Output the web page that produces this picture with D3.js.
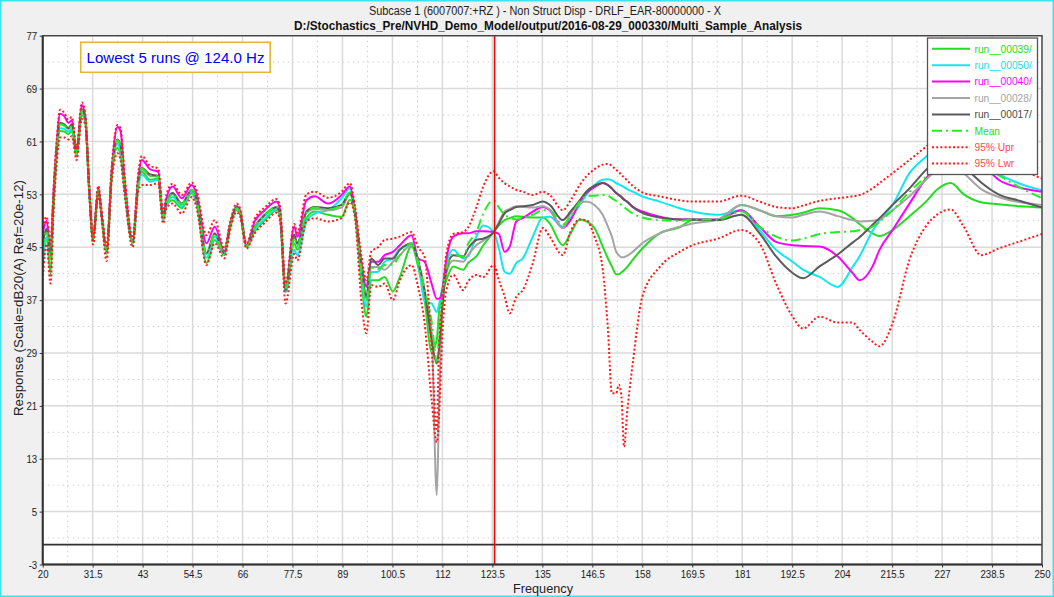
<!DOCTYPE html>
<html><head><meta charset="utf-8">
<script src="https://cdn.jsdelivr.net/npm/d3@7"></script>
<style>
html,body{margin:0;padding:0;background:#f0f0f0;}
svg{display:block;}
</style></head><body>
<svg id="chart" width="1054" height="597"></svg>
<script>
// ---------------- DATA ----------------
const freq = [20,20.9,21.8,22.5,23.2,24,25,25.9,26.7,27.8,
 29,29.8,30.7,31.6,32.8,33.6,34.7,35.9,37.2,37.9,
 38.9,40.7,42,42.8,44.7,46.6,47.7,48.5,49.9,52,
 54.3,55.4,57.7,59.6,61.8,63.1,64.6,65.4,66.9,68.8,
 71.1,73.8,74.6,75.9,77.9,78.6,80.7,82.6,85.7,88.8,
 90.7,91.8,93.4,94.5,95.6,97.2,98.7,100.6,102.2,104.9,
 106.4,107.9,109.5,110.7,111.2,112,112.9,114.5,116.8,117.9,
 119.8,121.4,123.8,125,126.3,127.5,129,130.5,132.8,135.1,
 136.7,139.7,141.5,143.6,145.1,147,148.9,150.1,151,152,
 152.6,153.2,153.8,154.5,155.8,158,162,166.6,169.6,175.4,
 180.8,185,188.8,192.6,195,198.8,203,206.4,208,211,
 212.6,215.6,219.5,223.3,226,229,232,236,240,245,
 250];

const run00039 = [44.0,46.5,41.0,51.0,58.5,62.6,62.5,62.1,62.6,58.8,
 65.0,64.0,53.5,46.0,53.3,49.4,44.0,55.8,60.0,59.0,
 53.2,45.5,54.5,56.4,55.2,55.4,49.3,51.5,52.1,50.9,
 53.2,51.6,42.6,46.1,43.8,47.8,50.6,50.1,45.0,47.4,
 49.1,50.6,49.6,38.3,45.6,44.6,49.4,50.4,49.9,49.6,
 52.2,50.2,39.5,34.5,40.0,40.0,40.5,38.3,40.5,45.1,
 42.1,37.0,29.2,31.0,35.0,38.0,40.0,42.1,41.6,42.6,
 43.6,45.3,47.3,48.3,49.1,49.4,49.7,49.6,49.5,49.5,
 48.6,45.3,47.1,49.2,48.9,47.9,45.1,43.3,42.1,40.9,
 40.9,41.2,41.5,42.0,43.1,44.8,47.1,48.0,49.1,49.2,
 51.4,50.6,49.7,49.9,50.2,50.9,50.6,49.4,48.5,47.1,
 46.7,47.6,49.7,51.9,53.8,54.7,53.0,51.8,51.5,51.2,
 51.0];

const run00050 = [42.0,46.5,43.5,52.0,59.0,63.0,62.9,62.5,62.9,59.0,
 65.4,64.2,53.7,46.1,53.5,49.5,44.2,56.0,60.6,59.6,
 53.5,45.6,54.0,56.0,54.9,55.2,49.0,51.2,52.6,51.2,
 53.5,51.8,43.4,46.6,43.9,48.0,50.8,50.2,45.1,47.6,
 49.3,50.8,49.8,38.2,44.6,43.8,48.9,50.1,50.6,52.4,
 53.9,50.8,41.0,36.0,41.2,41.3,42.8,43.3,44.8,45.3,
 43.0,36.8,36.5,35.2,36.3,39.0,42.5,44.6,43.3,43.6,
 46.6,48.3,47.3,44.8,41.3,41.0,42.6,43.3,46.6,49.5,
 49.6,48.1,49.4,51.4,52.9,54.4,55.2,55.3,55.1,54.7,
 54.5,54.3,54.1,53.8,53.4,52.7,51.9,50.9,50.4,49.9,
 50.6,47.6,44.6,42.8,41.6,40.5,39.0,42.0,43.6,47.5,
 49.0,51.4,56.2,58.7,60.3,61.2,60.2,58.0,56.1,54.6,
 53.6];

const run00040 = [47.0,49.0,44.5,53.5,60.5,65.2,64.8,63.8,64.2,59.5,
 66.5,64.8,54.2,46.4,54.0,49.9,44.6,56.8,63.2,62.6,
 55.0,46.0,55.5,58.2,56.8,56.4,49.8,52.5,54.2,52.4,
 54.4,53.1,45.6,48.1,44.4,48.4,51.2,50.6,45.3,48.9,
 50.6,51.9,50.8,39.0,48.1,46.6,52.1,52.7,51.6,52.9,
 54.2,51.0,42.6,39.0,42.8,42.8,43.8,44.3,45.3,46.8,
 43.3,42.8,39.5,37.2,37.2,38.5,43.1,46.6,47.1,47.1,
 47.4,47.4,47.3,47.0,44.3,45.1,48.9,49.4,50.4,51.1,
 50.6,47.9,49.1,51.9,53.2,54.1,54.7,54.4,53.9,53.2,
 52.9,52.6,52.2,51.9,51.1,50.4,49.6,49.2,49.2,49.2,
 50.6,48.1,45.8,45.3,45.2,45.1,43.6,41.1,40.0,42.1,
 44.6,47.6,51.6,55.4,57.5,59.2,59.5,57.8,55.2,54.0,
 53.4];

const run00028 = [45.5,47.8,43.5,52.5,59.5,63.6,63.4,62.9,63.4,59.1,
 65.7,64.4,53.8,46.2,53.6,49.6,44.3,56.2,61.0,60.2,
 53.8,45.7,54.8,56.8,55.8,55.7,49.4,51.7,53.0,51.5,
 53.6,52.2,44.0,47.0,44.0,48.1,51.0,50.4,45.1,48.0,
 49.8,51.0,50.0,38.6,46.6,45.4,50.2,50.8,50.6,51.0,
 53.0,50.6,41.8,37.2,42.0,42.0,41.6,42.8,43.8,45.3,
 42.8,38.0,32.5,7.5,20.0,36.5,41.0,43.0,42.8,43.8,
 45.3,46.0,47.3,48.8,50.4,50.8,51.2,51.1,51.0,51.2,
 50.7,47.9,50.1,51.6,51.9,51.4,49.9,48.1,46.6,44.3,
 43.8,43.5,43.5,43.7,44.3,45.6,47.1,48.1,48.6,49.2,
 51.4,50.6,49.7,49.5,49.9,50.4,49.7,49.1,48.9,49.0,
 49.2,50.6,52.7,55.2,56.8,57.8,56.2,53.8,52.6,51.8,
 51.4];

const run00017 = [45.5,47.8,43.5,52.5,59.6,63.8,63.6,63.0,63.6,59.2,
 65.9,64.5,53.9,46.2,53.7,49.7,44.4,56.3,61.3,60.5,
 54.0,45.8,55.0,57.0,56.0,55.8,49.5,51.8,53.2,51.6,
 53.7,52.3,44.1,47.1,44.1,48.1,51.1,50.4,45.2,48.1,
 49.9,51.1,50.1,38.5,46.9,45.6,50.4,51.1,50.9,51.4,
 53.2,50.7,42.0,37.5,43.3,42.3,43.3,43.3,44.6,45.6,
 43.0,38.5,31.0,27.4,29.5,36.0,41.5,43.8,43.6,44.8,
 46.1,46.3,47.3,48.6,50.1,50.6,51.1,51.2,51.4,51.9,
 51.4,49.1,50.4,52.1,53.4,54.3,54.7,54.4,53.9,53.2,
 52.9,52.6,52.2,51.9,51.1,50.2,49.5,49.2,49.2,49.1,
 49.9,47.1,43.6,41.1,40.3,42.1,43.9,45.7,46.5,48.4,
 49.4,51.4,53.9,56.7,58.3,59.3,57.3,54.8,53.0,52.0,
 51.0];

const meanVals = [44.8,47.5,43.2,52.3,59.4,63.6,63.4,62.9,63.3,59.1,
 65.7,64.4,53.8,46.2,53.6,49.6,44.3,56.2,61.2,60.4,
 53.9,45.7,54.8,56.9,55.8,55.7,49.4,51.7,53.0,51.5,
 53.7,52.2,44.0,47.0,44.0,48.1,50.9,50.3,45.1,48.0,
 49.8,51.1,50.1,38.5,46.4,45.2,50.2,51.0,50.7,51.4,
 53.3,50.6,41.4,36.8,41.9,41.7,42.3,42.4,43.8,45.6,
 42.8,38.6,33.8,27.7,31.6,37.6,41.7,44.0,43.5,45.5,
 47.3,50.1,52.1,51.0,49.9,49.5,49.2,49.4,49.9,50.6,
 50.6,48.4,49.7,51.9,52.7,52.8,52.9,52.8,52.4,52.0,
 51.7,51.4,51.1,50.7,50.1,49.5,49.1,49.0,49.2,49.2,
 50.4,48.1,46.6,46.0,46.3,47.0,47.3,47.4,47.6,48.1,
 48.9,50.6,53.4,55.7,57.5,58.8,58.8,57.5,55.9,54.0,
 52.4];

const upr95 = [48.0,49.6,45.5,54.0,61.0,65.8,65.3,64.3,64.7,60.0,
 66.9,65.2,54.6,46.8,54.3,50.3,45.2,57.4,63.5,63.0,
 55.5,46.4,56.2,58.8,57.3,56.9,50.3,53.0,54.6,52.9,
 54.8,53.6,46.8,49.1,44.8,48.7,51.6,50.9,45.6,49.3,
 51.0,52.3,51.2,39.5,48.5,47.2,53.0,53.4,52.5,53.4,
 54.7,51.5,43.5,40.0,44.3,45.0,46.1,46.3,46.6,47.3,
 45.0,43.5,30.0,17.5,29.5,37.0,44.0,47.0,47.3,48.0,
 51.0,54.2,56.5,55.5,54.7,54.2,53.7,53.4,52.9,53.4,
 52.9,50.6,52.1,54.4,55.7,56.8,57.5,57.6,57.3,56.7,
 56.4,55.9,55.6,55.1,54.3,53.3,52.7,52.1,51.9,51.9,
 52.8,51.9,51.1,50.9,51.3,52.0,52.4,52.7,52.9,53.9,
 54.7,56.2,58.2,60.2,61.6,62.8,62.8,61.0,58.8,56.8,
 55.4];

const lwr95 = [40.0,45.5,39.5,50.5,57.5,61.6,61.6,61.3,61.8,58.2,
 64.4,63.5,53.0,45.4,52.9,49.0,42.9,55.2,59.2,58.2,
 52.7,45.0,53.5,54.4,54.4,54.7,48.6,50.9,51.6,50.1,
 52.6,51.0,42.3,45.6,43.3,47.5,50.3,49.7,44.8,47.1,
 48.7,50.2,49.2,36.5,44.0,43.0,48.9,49.4,48.9,49.4,
 51.8,49.8,36.5,32.0,39.3,39.0,39.5,37.0,40.0,42.3,
 39.0,33.5,22.0,15.5,19.4,32.0,38.5,40.8,38.5,39.8,
 40.8,40.5,42.3,40.0,37.6,35.0,37.5,38.5,42.6,47.9,
 46.6,43.8,47.4,49.2,49.1,46.6,41.6,32.5,22.9,22.9,
 24.2,22.4,14.8,19.9,27.4,37.5,42.0,44.3,45.3,46.3,
 47.6,45.6,39.5,34.5,32.7,34.5,33.6,33.6,32.5,30.7,
 30.0,33.5,43.1,48.2,50.0,50.7,48.1,43.8,44.8,45.9,
 47.0];

const xTicks = [20,31.5,43,54.5,66,77.5,89,100.5,112,123.5,135,146.5,158,169.5,181,192.5,204,215.5,227,238.5,250];
const yTicks = [77,69,61,53,45,37,29,21,13,5,-3];
const markerFreq = 124.0;
const titleLine1 = "Subcase 1 (6007007:+RZ ) - Non Struct Disp -  DRLF_EAR-80000000 - X";
const titleLine2 = "D:/Stochastics_Pre/NVHD_Demo_Model/output/2016-08-29_000330/Multi_Sample_Analysis";
const yLabel = "Response (Scale=dB20(A) Ref=20e-12)";
const xLabel = "Frequency";
const noteText = "Lowest 5 runs @ 124.0 Hz";

const series = [
  {name:"run__00039/", values:run00039, color:"#22dd22", text:"#22dd22", width:2, dash:null},
  {name:"run__00050/", values:run00050, color:"#14e6f0", text:"#14dcec", width:2, dash:null},
  {name:"run__00040/", values:run00040, color:"#ff00ff", text:"#ff00ff", width:2, dash:null},
  {name:"run__00028/", values:run00028, color:"#a4a4a4", text:"#a4a4a4", width:2, dash:null},
  {name:"run__00017/", values:run00017, color:"#5a5a5a", text:"#4a4a4a", width:2, dash:null},
  {name:"Mean",        values:meanVals, color:"#22ee22", text:"#22dd22", width:2, dash:"10,4,2,4"},
  {name:"95% Upr",     values:upr95,    color:"#ff1a1a", text:"#ff4a4a", width:2, dash:"2,2.2"},
  {name:"95% Lwr",     values:lwr95,    color:"#ff1a1a", text:"#ff4a4a", width:2, dash:"2,2.2"}
];

// ---------------- CHART ----------------
const W = 1054, H = 597;
const m = {l:42.7, r:1042, t:35.7, b:564.5};
const x = d3.scaleLinear().domain([20,250]).range([m.l, m.r]);
const y = d3.scaleLinear().domain([-3,77]).range([m.b, m.t]);
const NARROW = "'Liberation Sans Narrow','Arial Narrow','Liberation Sans',Arial,sans-serif";
const SANS = "'Liberation Sans',Arial,sans-serif";

const svg = d3.select("#chart");
svg.append("rect").attr("x",0.75).attr("y",0.75).attr("width",W-1.5).attr("height",H-1.5)
  .attr("fill","#f0f0f0").attr("stroke","#3ae4f0").attr("stroke-width",1.5);

svg.append("rect").attr("x",m.l).attr("y",m.t).attr("width",m.r-m.l).attr("height",m.b-m.t).attr("fill","#ffffff");

// grid
const grid = svg.append("g");
const xMinor = xTicks.slice(0,-1).map((d,i)=>(d+xTicks[i+1])/2);
const yMinor = yTicks.slice(0,-1).map((d,i)=>(d+yTicks[i+1])/2);
grid.selectAll(".xm").data(xMinor).join("line")
  .attr("x1",d=>x(d)).attr("x2",d=>x(d)).attr("y1",m.t).attr("y2",m.b)
  .attr("stroke","#cfcfcf").attr("stroke-width",1).attr("stroke-dasharray","1.5,3.5");
grid.selectAll(".ym").data(yMinor).join("line")
  .attr("x1",m.l).attr("x2",m.r).attr("y1",d=>y(d)).attr("y2",d=>y(d))
  .attr("stroke","#cfcfcf").attr("stroke-width",1).attr("stroke-dasharray","1.5,3.5");
grid.selectAll(".xM").data(xTicks).join("line")
  .attr("x1",d=>x(d)).attr("x2",d=>x(d)).attr("y1",m.t).attr("y2",m.b)
  .attr("stroke","#dadada").attr("stroke-width",1.5);
grid.selectAll(".yM").data(yTicks).join("line")
  .attr("x1",m.l).attr("x2",m.r).attr("y1",d=>y(d)).attr("y2",d=>y(d))
  .attr("stroke","#dadada").attr("stroke-width",1.5);

// zero line
svg.append("line").attr("x1",m.l).attr("x2",m.r).attr("y1",y(0)).attr("y2",y(0))
  .attr("stroke","#333").attr("stroke-width",1.6);

// clip
svg.append("defs").append("clipPath").attr("id","clip").append("rect")
  .attr("x",m.l).attr("y",m.t).attr("width",m.r-m.l).attr("height",m.b-m.t);

const line = d3.line().x((d,i)=>x(freq[i])).y(d=>y(d)).curve(d3.curveMonotoneX);
const plot = svg.append("g").attr("clip-path","url(#clip)");
series.forEach(s=>{
  plot.append("path").datum(s.values).attr("d",line)
    .attr("fill","none").attr("stroke",s.color).attr("stroke-width",s.width)
    .attr("stroke-dasharray",s.dash).attr("stroke-linejoin","round");
});

// marker line
plot.append("line").attr("x1",x(markerFreq)).attr("x2",x(markerFreq)).attr("y1",m.t).attr("y2",m.b)
  .attr("stroke","#ff0000").attr("stroke-width",1.6);

// axes
const gx = svg.append("g").attr("transform",`translate(0,${m.b})`)
  .call(d3.axisBottom(x).tickValues(xTicks).tickSize(3).tickSizeOuter(0).tickPadding(2).tickFormat(d=>d));
const gy = svg.append("g").attr("transform",`translate(${m.l},0)`)
  .call(d3.axisLeft(y).tickValues(yTicks).tickSize(3).tickSizeOuter(0).tickPadding(2).tickFormat(d=>d));
[gx,gy].forEach(g=>{
  g.select(".domain").remove();
  g.selectAll(".tick line").attr("stroke","#333");
  g.selectAll("text").attr("font-family",SANS).attr("font-size",11.5).attr("fill","#222");
});
gx.selectAll("text").attr("transform","scale(0.84,1)");
gy.selectAll("text").attr("transform","scale(0.84,1)").attr("x",-6.5);

// frame
svg.append("rect").attr("x",m.l).attr("y",m.t).attr("width",m.r-m.l).attr("height",m.b-m.t)
  .attr("fill","none").attr("stroke","#444").attr("stroke-width",1.4);
svg.append("line").attr("x1",m.l).attr("x2",m.l).attr("y1",m.t).attr("y2",m.b).attr("stroke","#333").attr("stroke-width",2);
svg.append("line").attr("x1",m.l).attr("x2",m.r).attr("y1",m.b).attr("y2",m.b).attr("stroke","#333").attr("stroke-width",2);

// titles
svg.append("text").attr("x",545).attr("y",15).attr("text-anchor","middle")
  .attr("font-family",NARROW).attr("font-size",12).attr("fill","#222")
  .attr("textLength",352).attr("lengthAdjust","spacingAndGlyphs").text(titleLine1);
svg.append("text").attr("x",548).attr("y",30).attr("text-anchor","middle")
  .attr("font-family",NARROW).attr("font-size",13).attr("font-weight","bold").attr("fill","#111")
  .attr("textLength",508).attr("lengthAdjust","spacingAndGlyphs").text(titleLine2);

// axis labels
svg.append("text").attr("transform","translate(23,298) rotate(-90)").attr("text-anchor","middle")
  .attr("font-family",SANS).attr("font-size",13).attr("fill","#222")
  .attr("textLength",236).attr("lengthAdjust","spacingAndGlyphs").text(yLabel);
svg.append("text").attr("x",543).attr("y",593).attr("text-anchor","middle")
  .attr("font-family",SANS).attr("font-size",13).attr("fill","#222")
  .attr("textLength",60).attr("lengthAdjust","spacingAndGlyphs").text(xLabel);

// annotation
svg.append("rect").attr("x",80.7).attr("y",42.3).attr("width",189.5).attr("height",30)
  .attr("fill","#ffffff").attr("stroke","#e2b830").attr("stroke-width",1.6);
svg.append("text").attr("x",175.5).attr("y",62.5).attr("text-anchor","middle")
  .attr("font-family",SANS).attr("font-size",14.5).attr("fill","#0000ff")
  .attr("textLength",178).attr("lengthAdjust","spacingAndGlyphs").text(noteText);

// legend
const lg = svg.append("g");
lg.append("rect").attr("x",927.5).attr("y",38).attr("width",110).attr("height",136.5)
  .attr("fill","#ffffff").attr("stroke","#555").attr("stroke-width",1.3);
series.forEach((s,i)=>{
  const ly = 48.8 + i*16.4;
  lg.append("line").attr("x1",932).attr("x2",970).attr("y1",ly).attr("y2",ly)
    .attr("stroke",s.color).attr("stroke-width",2).attr("stroke-dasharray",s.dash);
  lg.append("text").attr("x",974.5).attr("y",ly+3.8).attr("font-family",SANS).attr("font-size",10.2)
    .attr("fill",s.text).text(s.name);
});
</script>
</body></html>
